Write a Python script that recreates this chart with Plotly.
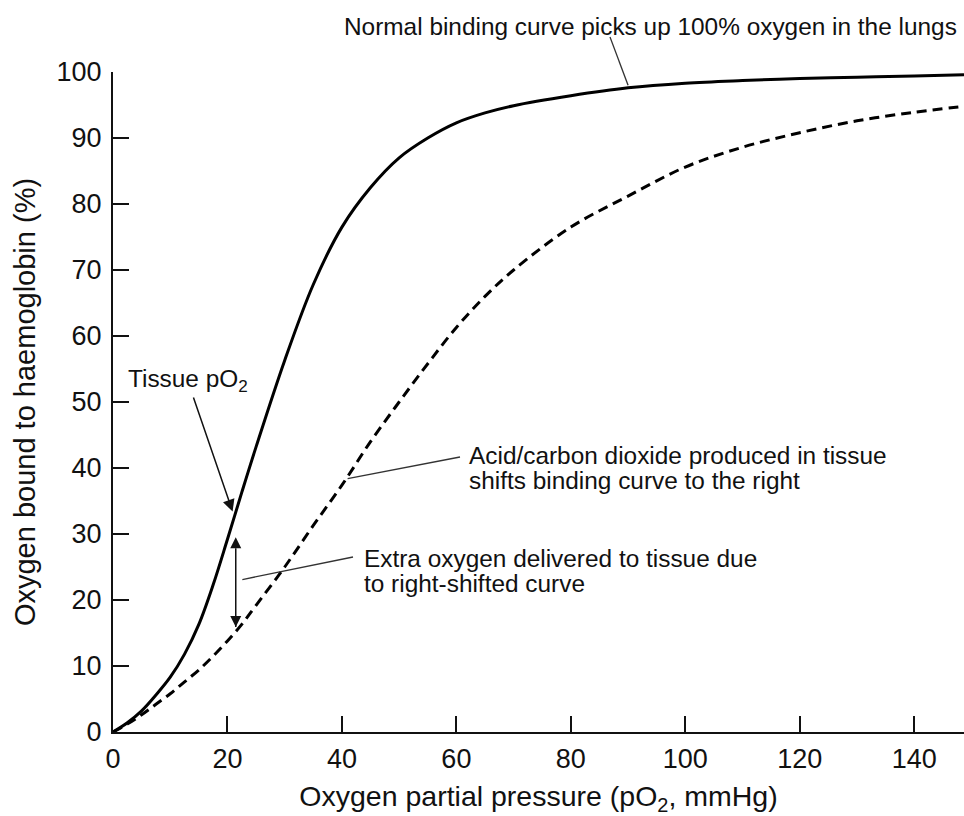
import plotly.graph_objects as go

# ---- data ----
po2 = [0, 2.5, 5, 7.5, 10, 12.5, 15, 17.5, 20, 22.5, 25, 30, 35, 40, 45, 50, 55, 60, 65, 70, 80, 90, 100,
       110, 120, 130, 140, 148.7]
normal_curve = [0, 1.4, 3.2, 5.6, 8.3, 11.8, 16.3, 22.3, 29.2, 36.3, 43.2, 56.3, 67.8, 76.5, 82.5, 87.0, 90.0,
                92.3, 93.8, 94.9, 96.4, 97.6, 98.3, 98.7, 99.0, 99.2, 99.4, 99.6]
shifted_curve = [0, 1.2, 2.6, 4.2, 5.8, 7.6, 9.4, 11.5, 13.8, 16.3, 19.2, 25.0, 31.3, 37.4, 44.0, 50.0, 55.8,
                 61.3, 66.0, 70.0, 76.5, 81.2, 85.6, 88.6, 90.8, 92.6, 93.9, 94.8]
x_ticks = [0, 20, 40, 60, 80, 100, 120, 140]
y_ticks = [0, 10, 20, 30, 40, 50, 60, 70, 80, 90, 100]
# extra oxygen delivered at tissue pO2 (double-headed arrow)
extra_x = [21.45, 21.45]
extra_y = [15.9, 29.5]

FONT = "Liberation Sans, Arial, Helvetica, sans-serif"
INK = "#111111"
X_MAX = 148.7
ANN_SIZE = 24.4

fig = go.Figure()
fig.add_trace(go.Scatter(x=po2, y=normal_curve, mode="lines", line=dict(color="black", width=3, shape="spline"),
                         name="Normal", showlegend=False, hoverinfo="skip"))
fig.add_trace(go.Scatter(x=po2, y=shifted_curve, mode="lines",
                         line=dict(color="black", width=3, shape="spline", dash="10px,6px"),
                         name="Right-shifted", showlegend=False, hoverinfo="skip"))
fig.add_trace(go.Scatter(x=extra_x, y=extra_y, mode="lines+markers", line=dict(color="#111", width=1.5),
                         marker=dict(symbol=["arrow-down", "arrow-up"], size=11, color="#111"),
                         name="Extra oxygen", showlegend=False, hoverinfo="skip", cliponaxis=False))

W, H = 964, 816
ML, MR, MT, MB = 113, 0, 72, 84
PW, PH = W - ML - MR, H - MT - MB


def px2paper(px, py):
    return (px - ML) / PW, (H - MB - py) / PH


def data2paper(x, y):
    return x / X_MAX, y / 100.0


ann = []
shapes = []
txt = dict(showarrow=False, font=dict(family=FONT, size=ANN_SIZE, color=INK), xanchor="left", yanchor="middle")


def leader(tail_px, head_data):
    x0, y0 = px2paper(*tail_px)
    x1, y1 = data2paper(*head_data)
    shapes.append(dict(type="line", xref="paper", yref="paper", x0=x0, y0=y0, x1=x1, y1=y1,
                       line=dict(color="#333333", width=1.3)))


# Normal binding curve label (above plot)
xp, yp = px2paper(342, 26.5)
ann.append(dict(text="Normal binding curve picks up 100% oxygen in the lungs", xref="paper", yref="paper",
                x=xp, y=yp, **txt))
leader((610, 37), (90, 98.0))

# Acid / CO2 label
ann.append(dict(text="Acid/carbon dioxide produced in tissue", x=61.8, y=41.9, xref="x", yref="y", **txt))
ann.append(dict(text="shifts binding curve to the right", x=61.8, y=38.1, xref="x", yref="y", **txt))
leader((460, 457), (41.0, 38.4))

# Extra oxygen label
ann.append(dict(text="Extra oxygen delivered to tissue due", x=43.5, y=26.3, xref="x", yref="y", **txt))
ann.append(dict(text="to right-shifted curve", x=43.5, y=22.5, xref="x", yref="y", **txt))
leader((353, 557), (22.6, 23.1))

# Tissue pO2 with arrow
ann.append(dict(text="Tissue pO<sub>2</sub>", x=20.9, y=33.4, xref="x", yref="y", ax=-45, ay=-131,
                showarrow=True, arrowhead=2, arrowsize=1.6, arrowwidth=1.5, arrowcolor="#111",
                font=dict(family=FONT, size=ANN_SIZE, color=INK)))

fig.update_layout(
    width=W, height=H,
    margin=dict(l=ML, r=MR, t=MT, b=MB, autoexpand=False),
    paper_bgcolor="white", plot_bgcolor="white",
    font=dict(family=FONT, color=INK),
    annotations=ann,
    shapes=shapes,
    xaxis=dict(range=[0, X_MAX], tickvals=x_ticks, ticks="inside", ticklen=16, tickwidth=1.5, tickcolor=INK,
               showline=True, linewidth=2, linecolor=INK, showgrid=False, zeroline=False,
               ticklabelstandoff=2,
               tickfont=dict(size=27, family=FONT, color=INK),
               title=dict(text="Oxygen partial pressure (pO<sub>2</sub>, mmHg)", font=dict(size=28.5, family=FONT, color=INK),
                          standoff=16)),
    yaxis=dict(range=[0, 100], tickvals=y_ticks, ticks="inside", ticklen=16, tickwidth=2, tickcolor=INK,
               showline=True, linewidth=2, linecolor=INK, showgrid=False, zeroline=False,
               ticklabelstandoff=4,
               tickfont=dict(size=27, family=FONT, color=INK),
               title=dict(text="Oxygen bound to haemoglobin (%)", font=dict(size=29, family=FONT, color=INK),
                          standoff=12)),
)

fig.write_html("out.html", config={"displayModeBar": False},
               post_script="document.body.style.margin='0px';")
